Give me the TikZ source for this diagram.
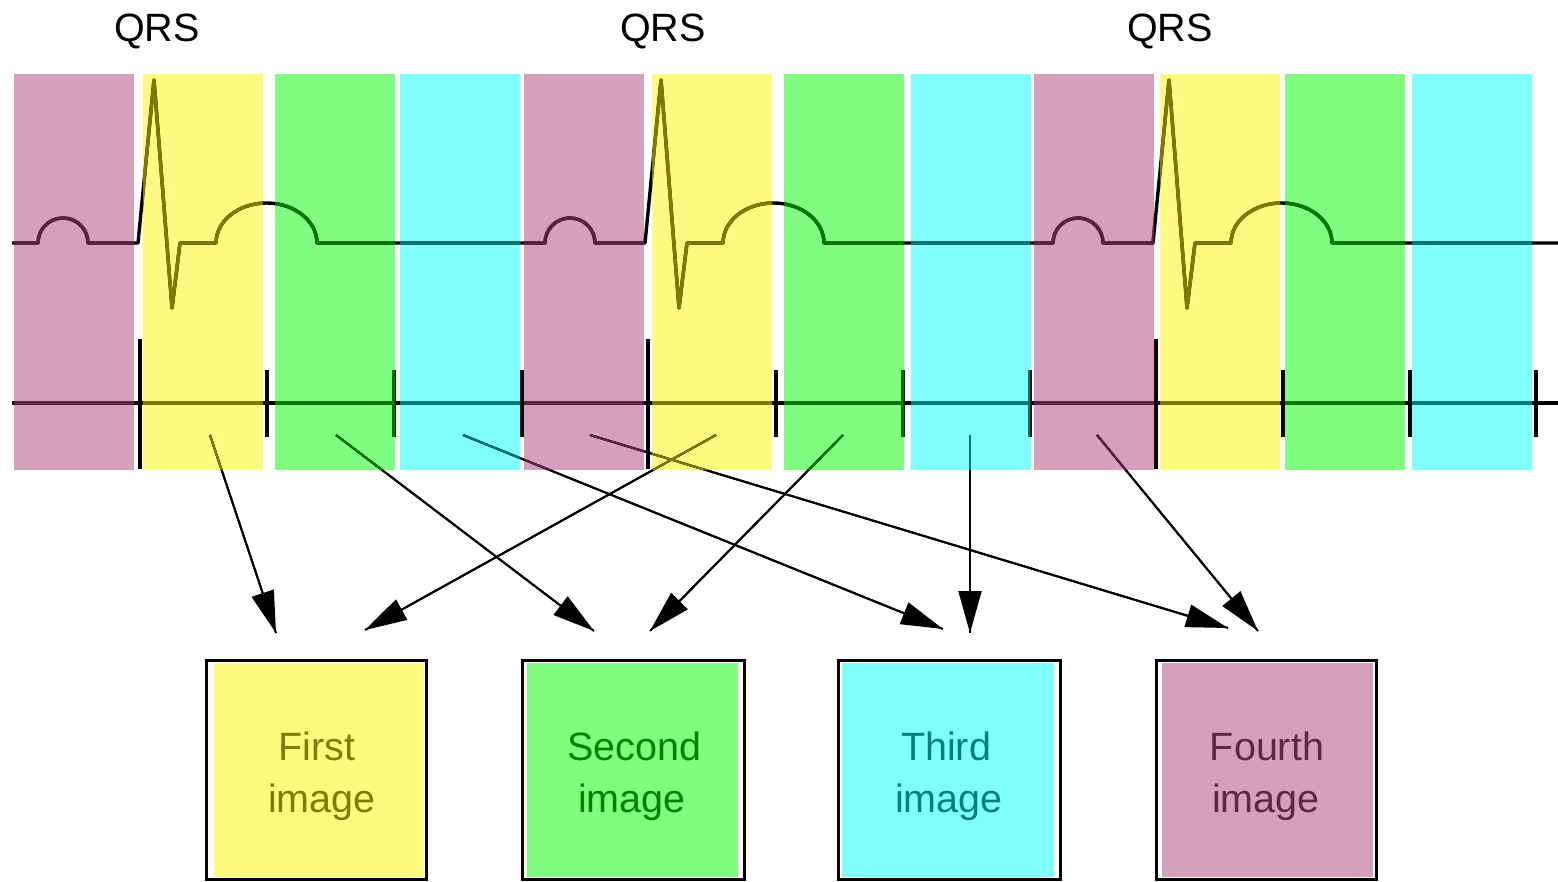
\documentclass[tikz,border=0pt]{standalone}
\usepackage{fontspec}
\setmainfont{Liberation Sans}
\usetikzlibrary{arrows.meta}
\definecolor{pinkf}{HTML}{D4A0BC}
\definecolor{yellowf}{HTML}{FFFA80}
\definecolor{greenf}{HTML}{80FC80}
\definecolor{cyanf}{HTML}{80FFFF}
\definecolor{pinkd}{HTML}{5A2346}
\definecolor{yellowd}{HTML}{7F7A00}
\definecolor{greend}{HTML}{007800}
\definecolor{cyand}{HTML}{007878}
\definecolor{pinkt}{HTML}{5A2848}
\definecolor{yellowt}{HTML}{807C00}
\definecolor{greent}{HTML}{008000}
\definecolor{cyant}{HTML}{008080}
\newcommand\ecgalllines[1]{%
  \begin{scope}[color=#1]
    \draw[wave] (12,243) foreach \q in {138,645,1153} {
      -- ({\q-100},243) arc[start angle=180,end angle=0,x radius=25pt,y radius=25pt]
      -- (\q,243) -- ({\q+16},80) -- ({\q+34},308) -- ({\q+42},243) -- ({\q+78},243)
      arc[start angle=180,end angle=0,x radius=50.5pt,y radius=40pt]
    } -- (1558,243);
    \draw[axisline] (12,403) -- (1558,403);
    \foreach \t in {140,648,1156} { \draw[tickmark] (\t,339) -- (\t,469); }
    \foreach \t in {267,394,522,776,903,1030,1283,1410,1536} { \draw[tickmark] (\t,370) -- (\t,437); }
    \foreach \i in {1,...,8} { \draw[conn] (s\i) -- (e\i); }
  \end{scope}}
\begin{document}
\begin{tikzpicture}[x=1pt,y=-1pt,line cap=butt,
  wave/.style={line width=3.4pt,line join=round},
  axisline/.style={line width=3pt},
  tickmark/.style={line width=3.5pt},
  conn/.style={line width=2pt},
  tipconn/.style={conn,-{Triangle[length=42pt,width=23pt]}},
  band/.style={inner sep=0pt,minimum width=120pt,minimum height=396pt,anchor=north west},
  lbl/.style={font=\fontsize{39.5}{39.5}\selectfont,inner sep=0pt,anchor=base},
  outerbox/.style={draw=black,line width=3pt,fill=white,inner sep=0pt,minimum height=219pt},
  innerbox/.style={inner sep=0pt,minimum height=214pt}]
\useasboundingbox[fill=white] (0,0) rectangle (1558,882);
% coloured bands
\foreach \x/\c [count=\n] in {14/pinkf,143/yellowf,275/greenf,400/cyanf,
  524/pinkf,652/yellowf,784/greenf,911/cyanf,1034/pinkf,1160/yellowf,1285/greenf,1412/cyanf}
  { \node[band,fill=\c] (band\n) at (\x,74) {}; }
% QRS labels
\node[lbl] (qrs1) at (157,42) {QRS};
\node[lbl] (qrs2) at (663,42) {QRS};
\node[lbl] (qrs3) at (1170,42) {QRS};
% boxes
\node[outerbox,minimum width=220pt] (b1) at (316.5,770) {};
\node[innerbox,minimum width=210pt,fill=yellowf] (b1i) at (319,770) {};
\node[outerbox,minimum width=222pt] (b2) at (633.5,770) {};
\node[innerbox,minimum width=211pt,fill=greenf] (b2i) at (632.5,770) {};
\node[outerbox,minimum width=222pt] (b3) at (949.5,770) {};
\node[innerbox,minimum width=212pt,fill=cyanf] (b3i) at (948,770) {};
\node[outerbox,minimum width=220pt] (b4) at (1266.5,770) {};
\node[innerbox,minimum width=211pt,fill=pinkf] (b4i) at (1267.5,770) {};
\node[lbl,text=yellowt] (t1a) at (317,760) {First};
\node[lbl,text=yellowt] (t1b) at (322,812) {image};
\node[lbl,text=greent] (t2a) at (634,760) {Second};
\node[lbl,text=greent] (t2b) at (632,812) {image};
\node[lbl,text=cyant] (t3a) at (946,760) {Third};
\node[lbl,text=cyant] (t3b) at (949,812) {image};
\node[lbl,text=pinkt] (t4a) at (1267,760) {Fourth};
\node[lbl,text=pinkt] (t4b) at (1266,812) {image};
% arrow end points
\coordinate (s1) at (210,435);  \coordinate (e1) at (276,633);
\coordinate (s2) at (336,435);  \coordinate (e2) at (594,631);
\coordinate (s3) at (463,435);  \coordinate (e3) at (943,629);
\coordinate (s4) at (590,435);  \coordinate (e4) at (1228,628);
\coordinate (s5) at (716,435);  \coordinate (e5) at (365,630);
\coordinate (s6) at (843,435);  \coordinate (e6) at (650,631);
\coordinate (s7) at (970,435);  \coordinate (e7) at (970,633);
\coordinate (s8) at (1097,435); \coordinate (e8) at (1258,631);
% black lines
\ecgalllines{black}
\foreach \i in {1,...,8} { \draw[tipconn] (s\i) -- (e\i); }
% tinted redraws inside the bands
\begin{scope}
  \clip (14,74) rectangle (134,470) (524,74) rectangle (644,470) (1034,74) rectangle (1154,470);
  \ecgalllines{pinkd}
\end{scope}
\begin{scope}
  \clip (143,74) rectangle (263,470) (652,74) rectangle (772,470) (1160,74) rectangle (1280,470);
  \ecgalllines{yellowd}
\end{scope}
\begin{scope}
  \clip (275,74) rectangle (395,470) (784,74) rectangle (904,470) (1285,74) rectangle (1405,470);
  \ecgalllines{greend}
\end{scope}
\begin{scope}
  \clip (400,74) rectangle (520,470) (911,74) rectangle (1030,470) (1412,74) rectangle (1532,470);
  \ecgalllines{cyand}
\end{scope}
\end{tikzpicture}
\end{document}
